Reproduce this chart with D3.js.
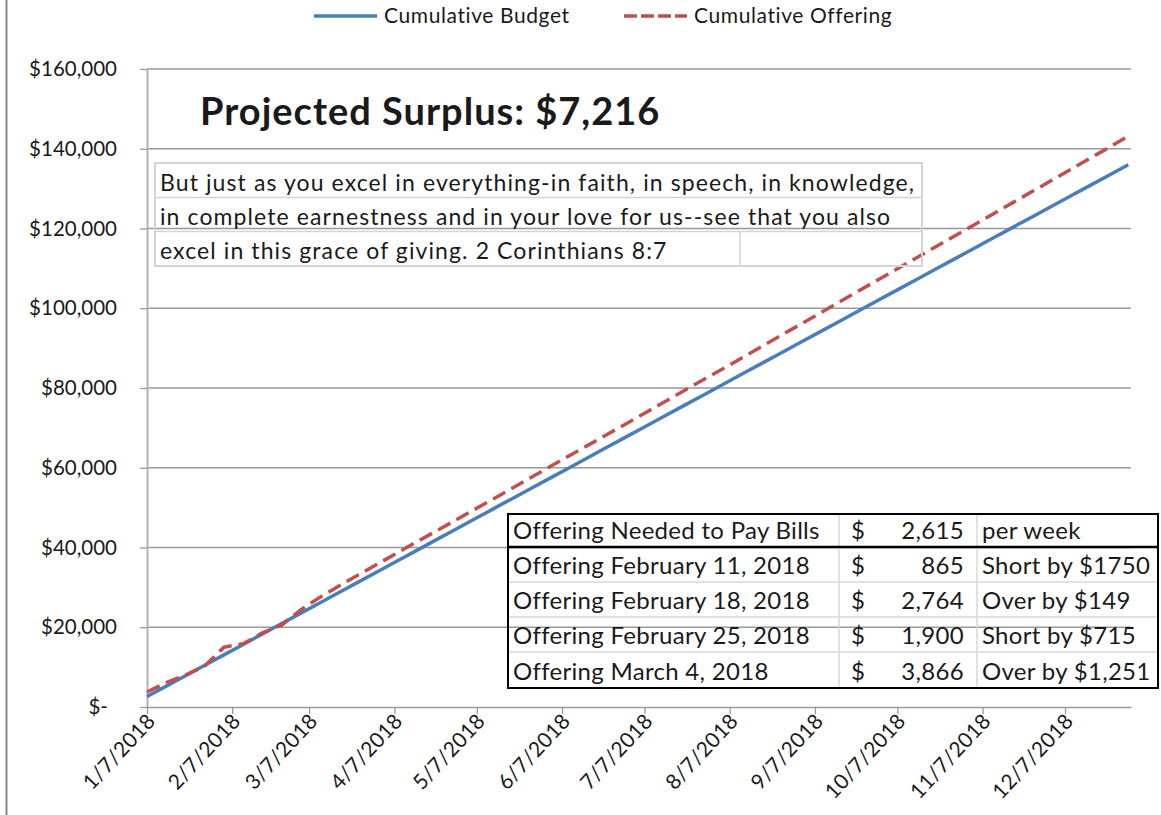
<!DOCTYPE html>
<html>
<head>
<meta charset="utf-8">
<script src="https://cdn.jsdelivr.net/npm/d3@7"></script>
<style>
  body { margin: 0; background: #fff; }
  svg text { font-family: Lato, "Open Sans", sans-serif; fill: #1a1a1a; }
</style>
</head>
<body>
<div id="chart"></div>
<script>
// weekly cumulative figures, first week ends 1/7/2018
const firstWeek = "2018-01-07";
const cumulativeBudget = [2615, 5230, 7845, 10460, 13075, 15690, 18305, 20920, 23535, 26150,
  28765, 31380, 33995, 36610, 39225, 41840, 44455, 47070, 49685, 52300,
  54915, 57530, 60145, 62760, 65375, 67990, 70605, 73220, 75835, 78450,
  81065, 83680, 86295, 88910, 91525, 94140, 96755, 99370, 101985, 104600,
  107215, 109830, 112445, 115060, 117675, 120290, 122905, 125520, 128135, 130750,
  133365, 135980];
const cumulativeOffering = [3760, 6120, 8010, 10300, 15000, 15865, 18629, 20529, 24395, 27550,
  30415, 33180, 35895, 38610, 41375, 44040, 46755, 49470, 52185, 54900,
  57665, 60430, 63145, 65860, 68575, 71290, 74055, 76820, 79585, 82300,
  85015, 87780, 90545, 93310, 96075, 98840, 101605, 104370, 107135, 109900,
  112665, 115430, 118195, 120960, 123725, 126490, 129255, 132020, 134785, 137550,
  140315, 143196];

const tickLabels = ["1/7/2018", "2/7/2018", "3/7/2018", "4/7/2018", "5/7/2018", "6/7/2018",
  "7/7/2018", "8/7/2018", "9/7/2018", "10/7/2018", "11/7/2018", "12/7/2018"];
const yTicks = [0, 20000, 40000, 60000, 80000, 100000, 120000, 140000, 160000];

const seriesNames = ["Cumulative Budget", "Cumulative Offering"];
const titleText = "Projected Surplus: $7,216";
const verseLines = [
  "But just as you excel in everything-in faith, in speech, in knowledge,",
  "in complete earnestness and in your love for us--see that you also",
  "excel in this grace of giving. 2 Corinthians 8:7"
];
const tableLabels = ["Offering Needed to Pay Bills", "Offering February 11, 2018",
  "Offering February 18, 2018", "Offering February 25, 2018", "Offering March 4, 2018"];
const tableAmounts = ["2,615", "865", "2,764", "1,900", "3,866"];
const tableNotes = ["per week", "Short by $1750", "Over by $149", "Short by $715", "Over by $1,251"];

const width = 1161, height = 815;
const blue = "#4a7ebb", red = "#c0504d";

const svg = d3.select("#chart").append("svg")
  .attr("width", width)
  .attr("height", height);

// frame edge on the left
svg.append("line")
  .attr("x1", 6.5).attr("x2", 6.5)
  .attr("y1", 0).attr("y2", height)
  .attr("stroke", "#8a8a8a").attr("stroke-width", 2);

const parse = d3.timeParse("%Y-%m-%d");
const start = parse(firstWeek);
const weeks = cumulativeBudget.map((d, i) => d3.timeDay.offset(start, i * 7));
const tickDates = tickLabels.map(d => d3.timeParse("%m/%d/%Y")(d));

const x = d3.scaleTime()
  .domain([start, parse("2018-12-31")])
  .range([147, 1131]);
const y = d3.scaleLinear()
  .domain([0, 160000])
  .range([707, 69]);

// gridlines
svg.append("g")
  .selectAll("line")
  .data(yTicks.slice(1))
  .join("line")
  .attr("x1", x.range()[0]).attr("x2", x.range()[1])
  .attr("y1", d => y(d)).attr("y2", d => y(d))
  .attr("stroke", "#999").attr("stroke-width", 1.3);

// y axis
const yAxis = svg.append("g")
  .attr("transform", `translate(${x.range()[0]},0)`)
  .call(d3.axisLeft(y).tickValues(yTicks).tickSize(7).tickSizeOuter(0)
    .tickFormat(d => d === 0 ? "$-" : "$" + d3.format(",")(d)));
yAxis.select(".domain").attr("stroke", "#b3b3b3").attr("stroke-width", 2);
yAxis.selectAll(".tick line").attr("stroke", "#999").attr("stroke-width", 1.3);
yAxis.selectAll(".tick text")
  .attr("x", d => d === 0 ? -39 : -30)
  .style("font-size", "20.5px")
  .attr("fill", "#1a1a1a");

// x axis
const xAxis = svg.append("g")
  .attr("transform", `translate(0,${y(0)})`)
  .call(d3.axisBottom(x).tickValues(tickDates).tickSize(7).tickSizeOuter(0)
    .tickFormat((d, i) => tickLabels[i]));
xAxis.select(".domain").attr("stroke", "#999").attr("stroke-width", 1.5);
xAxis.selectAll(".tick line").attr("stroke", "#999").attr("stroke-width", 1.3);
xAxis.selectAll(".tick text")
  .attr("text-anchor", "end")
  .attr("x", 0).attr("y", 0).attr("dy", 0)
  .attr("transform", "translate(9,15) rotate(-47)")
  .style("font-size", "21px")
  .style("letter-spacing", "0.3px")
  .attr("fill", "#1a1a1a");

// lines
const line = d3.line()
  .x((d, i) => x(weeks[i]))
  .y(d => y(d));

svg.append("path")
  .datum(cumulativeBudget)
  .attr("d", line)
  .attr("fill", "none")
  .attr("stroke", blue)
  .attr("stroke-width", 3.5)
  .attr("stroke-linejoin", "round");

svg.append("path")
  .datum(cumulativeOffering)
  .attr("d", line)
  .attr("fill", "none")
  .attr("stroke", red)
  .attr("stroke-width", 3.5)
  .attr("stroke-dasharray", "14,7");

// legend
const legend = svg.append("g");
const legendX = [314, 624];
legend.selectAll("line")
  .data(seriesNames)
  .join("line")
  .attr("x1", (d, i) => legendX[i]).attr("x2", (d, i) => legendX[i] + 63)
  .attr("y1", 16).attr("y2", 16)
  .attr("stroke", (d, i) => i === 0 ? blue : red)
  .attr("stroke-width", 3.5)
  .attr("stroke-dasharray", (d, i) => i === 0 ? null : "13,4");
legend.selectAll("text")
  .data(seriesNames)
  .join("text")
  .text(d => d)
  .attr("x", (d, i) => legendX[i] + 70)
  .attr("y", 23)
  .style("font-size", "21px")
  .style("letter-spacing", "0.6px");

// title
svg.append("text")
  .text(titleText)
  .attr("x", 200).attr("y", 125)
  .style("font-size", "38px")
  .style("font-weight", "bold")
  .style("letter-spacing", "1px")
  .attr("fill", "#000");

// verse box
const verse = svg.append("g");
const rowY = [163, 197.5, 231.5, 266];
verse.append("rect")
  .attr("x", 155).attr("y", 163)
  .attr("width", 767).attr("height", 103)
  .attr("fill", "none").attr("stroke", "#d4d4d4").attr("stroke-width", 2);
verse.selectAll(".sep")
  .data([197.5, 231.5])
  .join("line")
  .attr("class", "sep")
  .attr("x1", 155).attr("x2", 922)
  .attr("y1", d => d).attr("y2", d => d)
  .attr("stroke", "#d4d4d4").attr("stroke-width", 1.5);
verse.append("line")
  .attr("x1", 740).attr("x2", 740)
  .attr("y1", 231.5).attr("y2", 266)
  .attr("stroke", "#d4d4d4").attr("stroke-width", 1.5);
verse.selectAll("text")
  .data(verseLines)
  .join("text")
  .text(d => d)
  .attr("x", 160)
  .attr("y", (d, i) => rowY[i + 1] - 7)
  .style("font-size", "23px")
  .style("letter-spacing", "1.1px");

// table
const table = svg.append("g");
const rowTops = [514, 547, 582, 617, 652, 688];
table.selectAll(".rowsep")
  .data(rowTops.slice(2, 5))
  .join("line")
  .attr("class", "rowsep")
  .attr("x1", 508).attr("x2", 1158)
  .attr("y1", d => d).attr("y2", d => d)
  .attr("stroke", "#d9d9d9").attr("stroke-width", 1.5);
table.selectAll(".colsep")
  .data([839, 977])
  .join("line")
  .attr("class", "colsep")
  .attr("x1", d => d).attr("x2", d => d)
  .attr("y1", 514).attr("y2", 688)
  .attr("stroke", "#d9d9d9").attr("stroke-width", 1.5);
table.append("rect")
  .attr("x", 508).attr("y", 514)
  .attr("width", 650).attr("height", 174)
  .attr("fill", "none").attr("stroke", "#000").attr("stroke-width", 2);
table.append("line")
  .attr("x1", 508).attr("x2", 1158)
  .attr("y1", 547).attr("y2", 547)
  .attr("stroke", "#000").attr("stroke-width", 2.5);

const rows = table.selectAll(".row")
  .data(tableLabels)
  .join("g")
  .attr("class", "row")
  .attr("transform", (d, i) => `translate(0,${rowTops[i + 1] - 8})`)
  .style("font-size", "24px")
  .style("letter-spacing", "0.3px");
rows.append("text").text(d => d).attr("x", 513);
rows.append("text").text("$").attr("x", 851);
rows.append("text").text((d, i) => tableAmounts[i]).attr("x", 964)
  .attr("text-anchor", "end");
rows.append("text").text((d, i) => tableNotes[i]).attr("x", 982);
</script>
</body>
</html>
